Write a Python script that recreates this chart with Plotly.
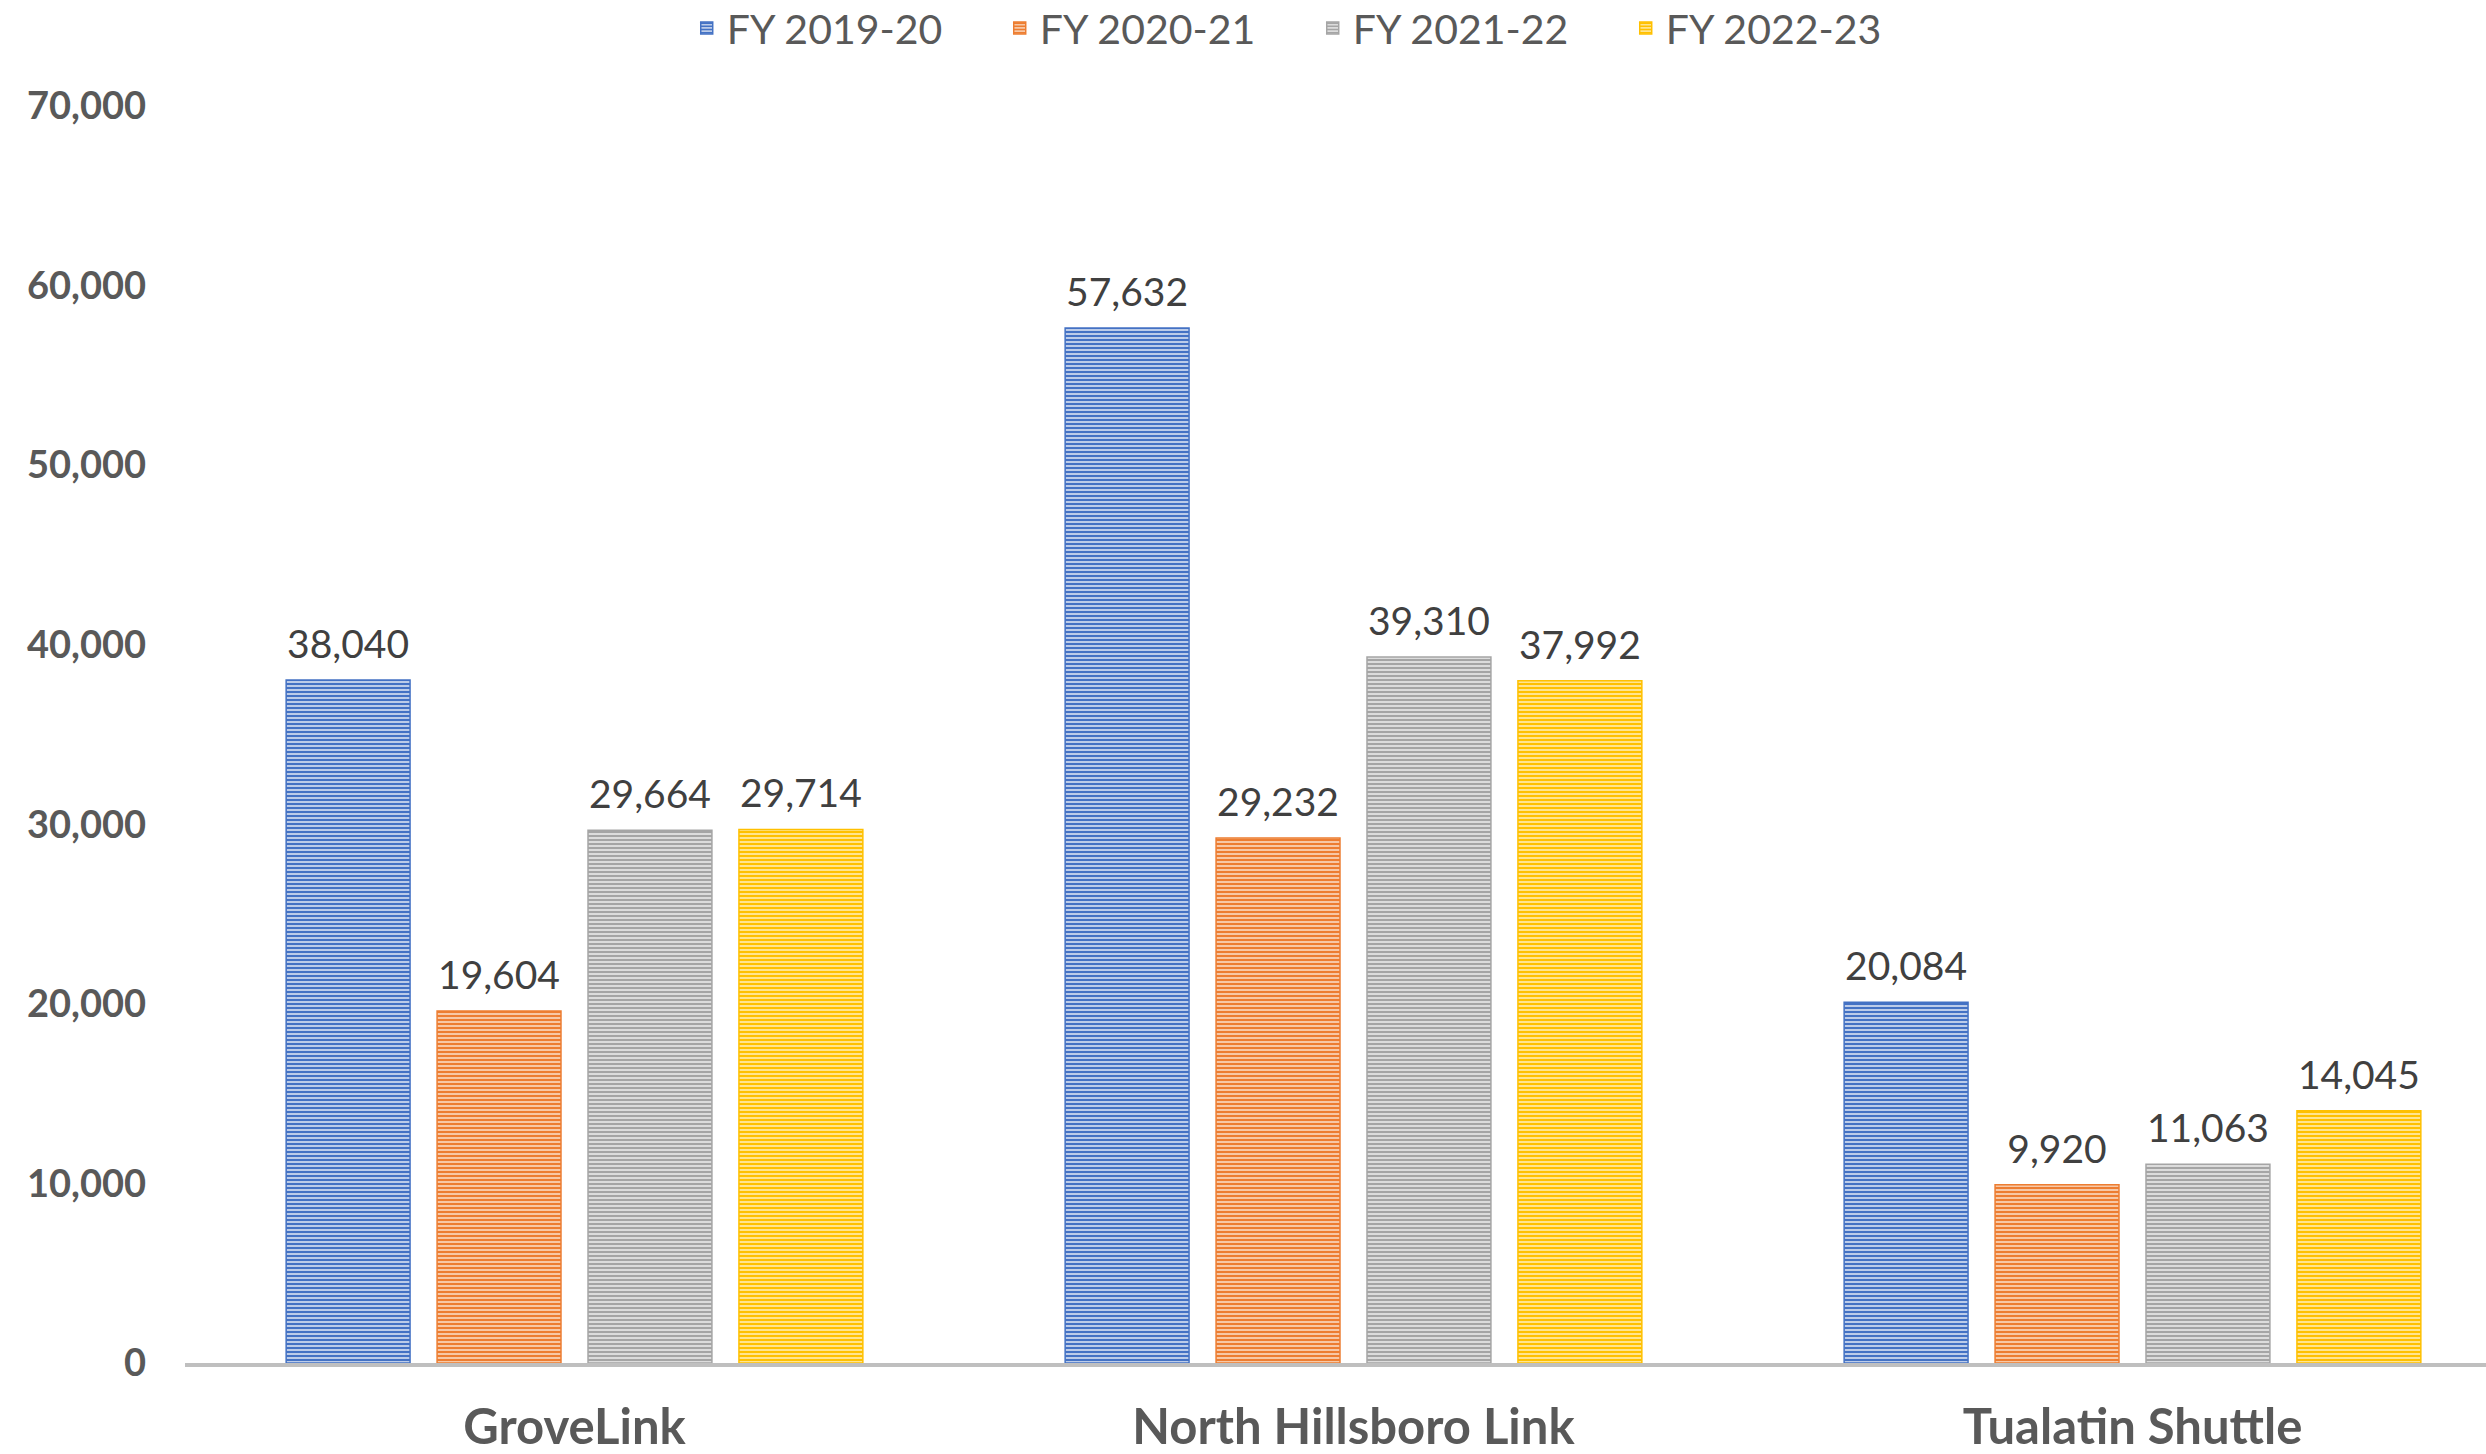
import plotly.graph_objects as go

categories = ["GroveLink", "North Hillsboro Link", "Tualatin Shuttle"]
series_names = ["FY 2019-20", "FY 2020-21", "FY 2021-22", "FY 2022-23"]
fy_2019_20 = [38040, 57632, 20084]
fy_2020_21 = [19604, 29232, 9920]
fy_2021_22 = [29664, 39310, 11063]
fy_2022_23 = [29714, 37992, 14045]
y_ticks = [0, 10000, 20000, 30000, 40000, 50000, 60000, 70000]

series_values = [fy_2019_20, fy_2020_21, fy_2021_22, fy_2022_23]
main_colors = ["#4472C4", "#ED7D31", "#A5A5A5", "#FFC000"]
light_colors = ["#C9D6EE", "#F9D0B3", "#E2E2E2", "#FFE8A0"]

FONT = "Lato, 'Open Sans', sans-serif"
GAP = 0.225

fig = go.Figure()
for i, (name, vals, mc, lc) in enumerate(zip(series_names, series_values, main_colors, light_colors)):
    fig.add_trace(go.Bar(
        name=name,
        x=categories,
        y=vals,
        offsetgroup=str(i),
        marker=dict(
            color=mc,
            line=dict(color=mc, width=1.5),
            pattern=dict(shape="-", fillmode="replace", bgcolor=lc, fgcolor=mc,
                         size=4, solidity=0.55),
        ),
        hoverinfo="x+y+name",
    ))
for i, (name, vals) in enumerate(zip(series_names, series_values)):
    fig.add_trace(go.Scatter(
        name=name,
        x=categories,
        y=vals,
        offsetgroup=str(i),
        mode="markers+text",
        marker=dict(size=18, opacity=0, color="white"),
        text=[f"{v:,}" for v in vals],
        textposition="top center",
        textfont=dict(family=FONT, size=39, color="#404040"),
        showlegend=False,
        hoverinfo="skip",
        cliponaxis=False,
    ))

fig.update_layout(
    width=2486, height=1454,
    paper_bgcolor="white", plot_bgcolor="white",
    margin=dict(l=185, r=0, t=106, b=91, autoexpand=False),
    barmode="group", bargap=GAP, bargroupgap=0.179,
    scattermode="group", scattergap=GAP,
    font=dict(family=FONT, color="#595959"),
    legend=dict(
        orientation="h", x=0.4901, xanchor="center", y=1.0885, yanchor="top",
        font=dict(family=FONT, size=41, color="#595959"),
        entrywidth=268, entrywidthmode="pixels",
        itemwidth=30,
    ),
    xaxis=dict(
        range=[-0.5, 2.4538], automargin=False,
        showline=True, linecolor="#BFBFBF", linewidth=4,
        showgrid=False, ticks="",
        tickfont=dict(family=FONT, size=49, color="#595959", weight="bold"),
        ticklabelstandoff=18,
    ),
    yaxis=dict(
        range=[0, 70000], tickvals=y_ticks, tickformat=",", automargin=False,
        showgrid=False, zeroline=False, showline=False, ticks="",
        tickfont=dict(family=FONT, size=38, color="#595959", weight="bold"),
        ticklabelstandoff=38,
    ),
)

fig.write_html(
    "out.html",
    config={"displayModeBar": False},
    post_script="document.body.style.margin='0';document.body.style.overflow='hidden';",
)
